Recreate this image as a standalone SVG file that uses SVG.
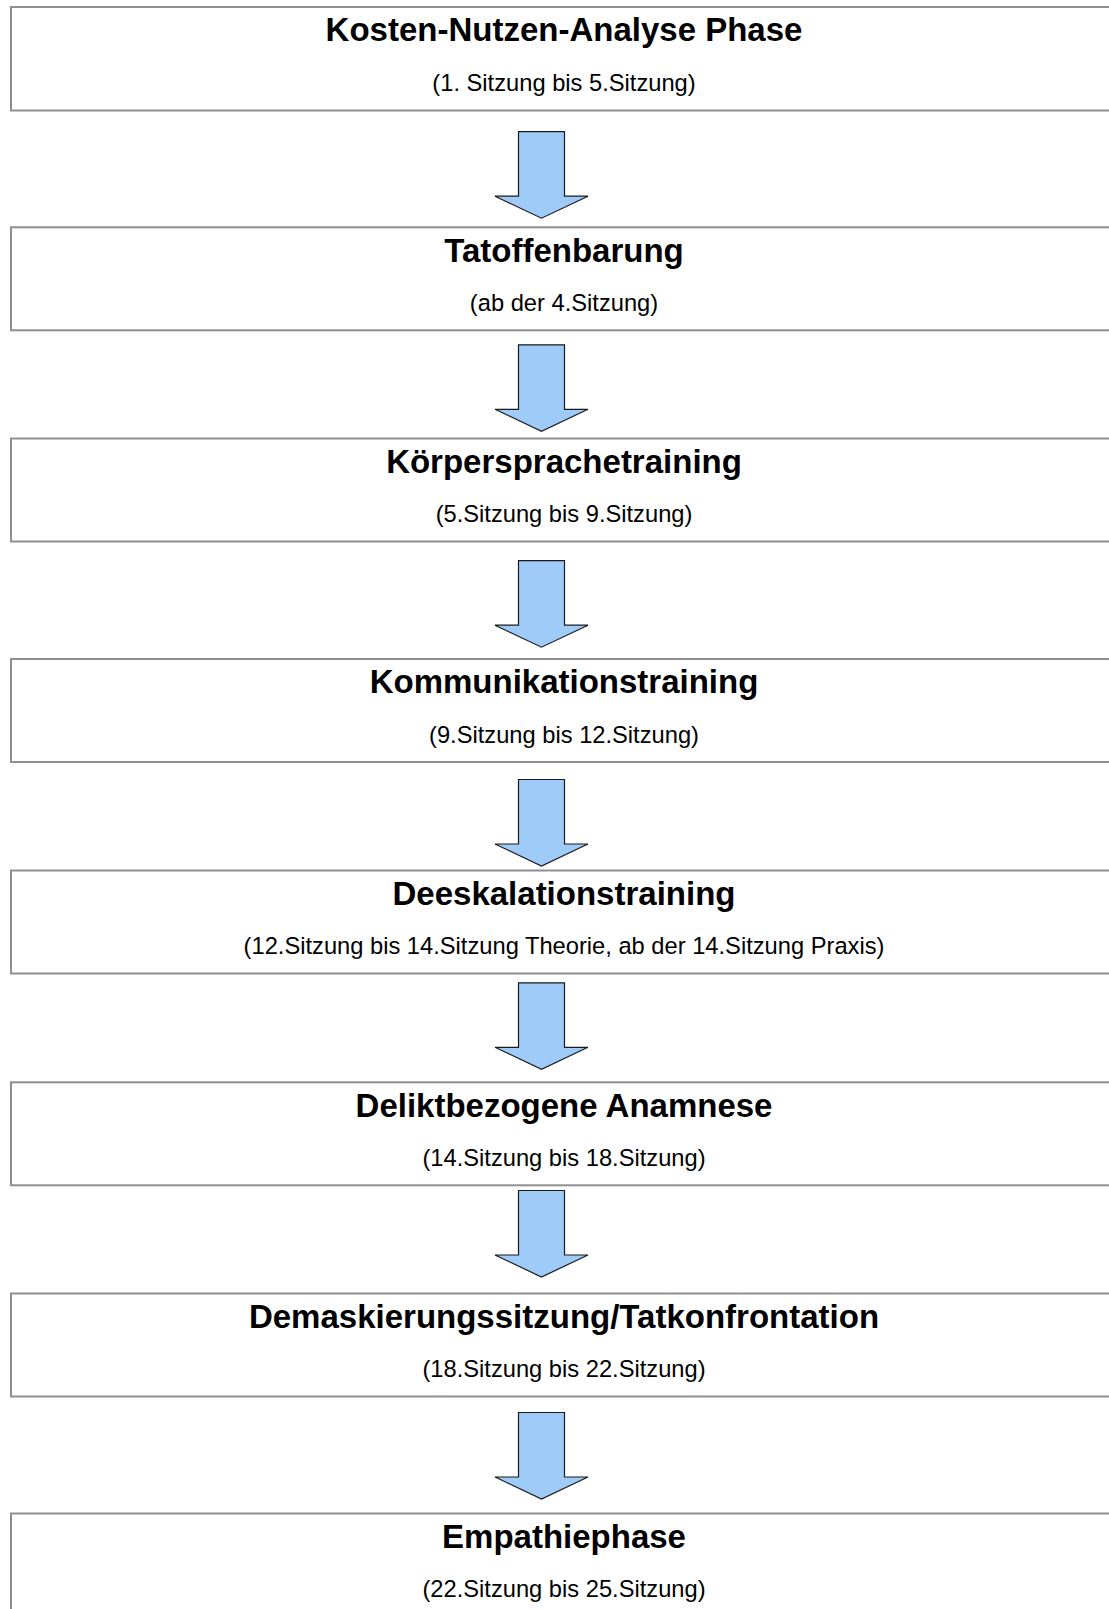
<svg xmlns="http://www.w3.org/2000/svg" width="1109" height="1609" viewBox="0 0 1109 1609">
<style>
.box{fill:#ffffff;stroke:#8f8f8f;stroke-width:2}
.t{font-family:"Liberation Sans",Arial,sans-serif;font-weight:bold;font-size:33px;fill:#000;text-anchor:middle}
.s{font-family:"Liberation Sans",Arial,sans-serif;font-size:23.7px;fill:#000;text-anchor:middle}
.arr{fill:#9fcbf8;stroke:#1a1a1a;stroke-width:1.2;stroke-linejoin:miter}
</style>
<defs>
<path id="arrow" d="M518.5,0 H564.5 V64.5 H588 L541.5,86.5 L495,64.5 H518.5 Z"/>
</defs>
<rect width="1109" height="1609" fill="#ffffff"/>
<g id="n1"><rect class="box" x="11" y="7" width="1110" height="103.5"/><text class="t" x="564" y="41">Kosten-Nutzen-Analyse Phase</text><text class="s" x="564" y="91">(1. Sitzung bis 5.Sitzung)</text></g>
<g id="n2"><rect class="box" x="11" y="227.3" width="1110" height="103"/><text class="t" x="564" y="261.5">Tatoffenbarung</text><text class="s" x="564" y="311">(ab der 4.Sitzung)</text></g>
<g id="n3"><rect class="box" x="11" y="438.5" width="1110" height="103"/><text class="t" x="564" y="472.5">Körpersprachetraining</text><text class="s" x="564" y="522">(5.Sitzung bis 9.Sitzung)</text></g>
<g id="n4"><rect class="box" x="11" y="659" width="1110" height="103"/><text class="t" x="564" y="693">Kommunikationstraining</text><text class="s" x="564" y="742.5">(9.Sitzung bis 12.Sitzung)</text></g>
<g id="n5"><rect class="box" x="11" y="870.5" width="1110" height="103"/><text class="t" x="564" y="904.5">Deeskalationstraining</text><text class="s" x="564" y="954">(12.Sitzung bis 14.Sitzung Theorie, ab der 14.Sitzung Praxis)</text></g>
<g id="n6"><rect class="box" x="11" y="1082.3" width="1110" height="103"/><text class="t" x="564" y="1116.5">Deliktbezogene Anamnese</text><text class="s" x="564" y="1166">(14.Sitzung bis 18.Sitzung)</text></g>
<g id="n7"><rect class="box" x="11" y="1293.5" width="1110" height="103"/><text class="t" x="564" y="1327.5">Demaskierungssitzung/Tatkonfrontation</text><text class="s" x="564" y="1377">(18.Sitzung bis 22.Sitzung)</text></g>
<g id="n8"><rect class="box" x="11" y="1513.5" width="1110" height="103"/><text class="t" x="564" y="1547.5">Empathiephase</text><text class="s" x="564" y="1597">(22.Sitzung bis 25.Sitzung)</text></g>
<g id="connectors">
<use href="#arrow" class="arr" x="0" y="131.7"/>
<use href="#arrow" class="arr" x="0" y="344.8"/>
<use href="#arrow" class="arr" x="0" y="560.7"/>
<use href="#arrow" class="arr" x="0" y="779.5"/>
<use href="#arrow" class="arr" x="0" y="982.8"/>
<use href="#arrow" class="arr" x="0" y="1190.5"/>
<use href="#arrow" class="arr" x="0" y="1412.5"/>
</g>
</svg>
